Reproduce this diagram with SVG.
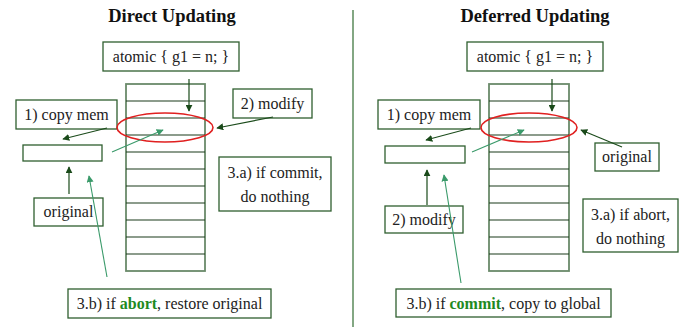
<svg xmlns="http://www.w3.org/2000/svg" width="688" height="327" viewBox="0 0 688 327">
<defs>
<style>
text{font-family:"Liberation Serif","DejaVu Serif",serif;font-size:16px;fill:#222;}
.title{font-size:18.5px;font-weight:bold;fill:#111;}
.box{fill:#fff;stroke:#2f5f2f;stroke-width:1.3;}
.col{fill:#fff;stroke:#6a8a6a;stroke-width:1.8;}
.row{stroke:#1a3a1a;stroke-width:1.2;}
.dark{stroke:#1a4a1a;stroke-width:1.2;fill:none;marker-end:url(#ad);}
.teal{stroke:#3a9a6a;stroke-width:1.1;fill:none;marker-end:url(#at);}
.hl{fill:#1f8a1f;font-weight:bold;}
</style>
<marker id="ad" viewBox="0 0 10 10" refX="9" refY="5" markerWidth="7" markerHeight="7" markerUnits="userSpaceOnUse" orient="auto"><path d="M0,0L10,5L0,10z" fill="#1a4a1a"/></marker>
<marker id="at" viewBox="0 0 10 10" refX="9" refY="5" markerWidth="7" markerHeight="7" markerUnits="userSpaceOnUse" orient="auto"><path d="M0,0L10,5L0,10z" fill="#3a9a6a"/></marker>
</defs>
<rect width="688" height="327" fill="#fff"/>
<line x1="353" y1="10" x2="353" y2="327" stroke="#5a8a5a" stroke-width="1.5"/>
<text class="title" x="172" y="22" text-anchor="middle">Direct Updating</text>
<text class="title" x="535" y="22" text-anchor="middle">Deferred Updating</text>

<!-- LEFT PANEL -->
<g id="mem-left">
<rect class="col" x="126" y="84" width="79" height="187"/>
<path class="row" d="M126,101H205M126,118H205M126,135H205M126,152H205M126,169H205M126,186H205M126,203H205M126,220H205M126,237H205M126,254H205"/>
</g>
<g id="atomic-left"><rect class="box" x="103" y="42" width="136" height="29"/><text x="171" y="62" text-anchor="middle">atomic { g1 = n; }</text></g>
<g id="copymem-left"><rect class="box" x="16" y="100" width="101" height="29"/><text x="66.5" y="120" text-anchor="middle">1) copy mem</text></g>
<g id="local-left"><rect class="box" x="23" y="145" width="79" height="16"/></g>
<g id="modify-left"><rect class="box" x="233" y="89" width="79" height="29"/><text x="272.5" y="109" text-anchor="middle">2) modify</text></g>
<g id="commit-left"><rect class="box" x="219" y="157" width="112" height="54"/><text x="275" y="178" text-anchor="middle">3.a) if commit,</text><text x="275" y="202" text-anchor="middle">do nothing</text></g>
<g id="original-left"><rect class="box" x="34" y="198" width="69" height="28"/><text x="68.5" y="217" text-anchor="middle">original</text></g>
<g id="abort-left"><rect class="box" x="68" y="289" width="203" height="29"/><text x="169.5" y="309" text-anchor="middle">3.b) if <tspan class="hl">abort</tspan>, restore original</text></g>

<!-- RIGHT PANEL -->
<g id="mem-right">
<rect class="col" x="489" y="84" width="80" height="187"/>
<path class="row" d="M489,101H569M489,118H569M489,135H569M489,152H569M489,169H569M489,186H569M489,203H569M489,220H569M489,237H569M489,254H569"/>
</g>
<g id="atomic-right"><rect class="box" x="467" y="42" width="136" height="29"/><text x="535" y="62" text-anchor="middle">atomic { g1 = n; }</text></g>
<g id="copymem-right"><rect class="box" x="378" y="100" width="102" height="29"/><text x="429" y="120" text-anchor="middle">1) copy mem</text></g>
<g id="local-right"><rect class="box" x="385" y="146" width="80" height="17"/></g>
<g id="original-right"><rect class="box" x="595" y="143" width="64" height="28"/><text x="627" y="162" text-anchor="middle">original</text></g>
<g id="modify-right"><rect class="box" x="385" y="206" width="78" height="27"/><text x="424" y="225" text-anchor="middle">2) modify</text></g>
<g id="abort-right"><rect class="box" x="583" y="199" width="95" height="53"/><text x="630.5" y="220" text-anchor="middle">3.a) if abort,</text><text x="630.5" y="244" text-anchor="middle">do nothing</text></g>
<g id="commit-right"><rect class="box" x="396" y="289" width="215" height="28"/><text x="503.5" y="309" text-anchor="middle">3.b) if <tspan class="hl">commit</tspan>, copy to global</text></g>

<g id="connectors">
<ellipse cx="165" cy="127.5" rx="48" ry="14.5" fill="none" stroke="#e02020" stroke-width="1.6"/>
<ellipse cx="529" cy="127.5" rx="48" ry="14.5" fill="none" stroke="#e02020" stroke-width="1.6"/>
<path class="dark" d="M189,79V111"/>
<path class="dark" d="M107,128L63,139"/>
<path class="teal" d="M112,152L163,130"/>
<path class="dark" d="M273,117L217,128"/>
<path class="dark" d="M69,194V167"/>
<path class="teal" d="M107,277L89,176"/>
<path class="dark" d="M552,79V111"/>
<path class="dark" d="M471,128L426,140"/>
<path class="teal" d="M472,152L524,130"/>
<path class="dark" d="M622,147L581,130"/>
<path class="dark" d="M427,205V170"/>
<path class="teal" d="M461,283L444,175"/>
</g>
</svg>
